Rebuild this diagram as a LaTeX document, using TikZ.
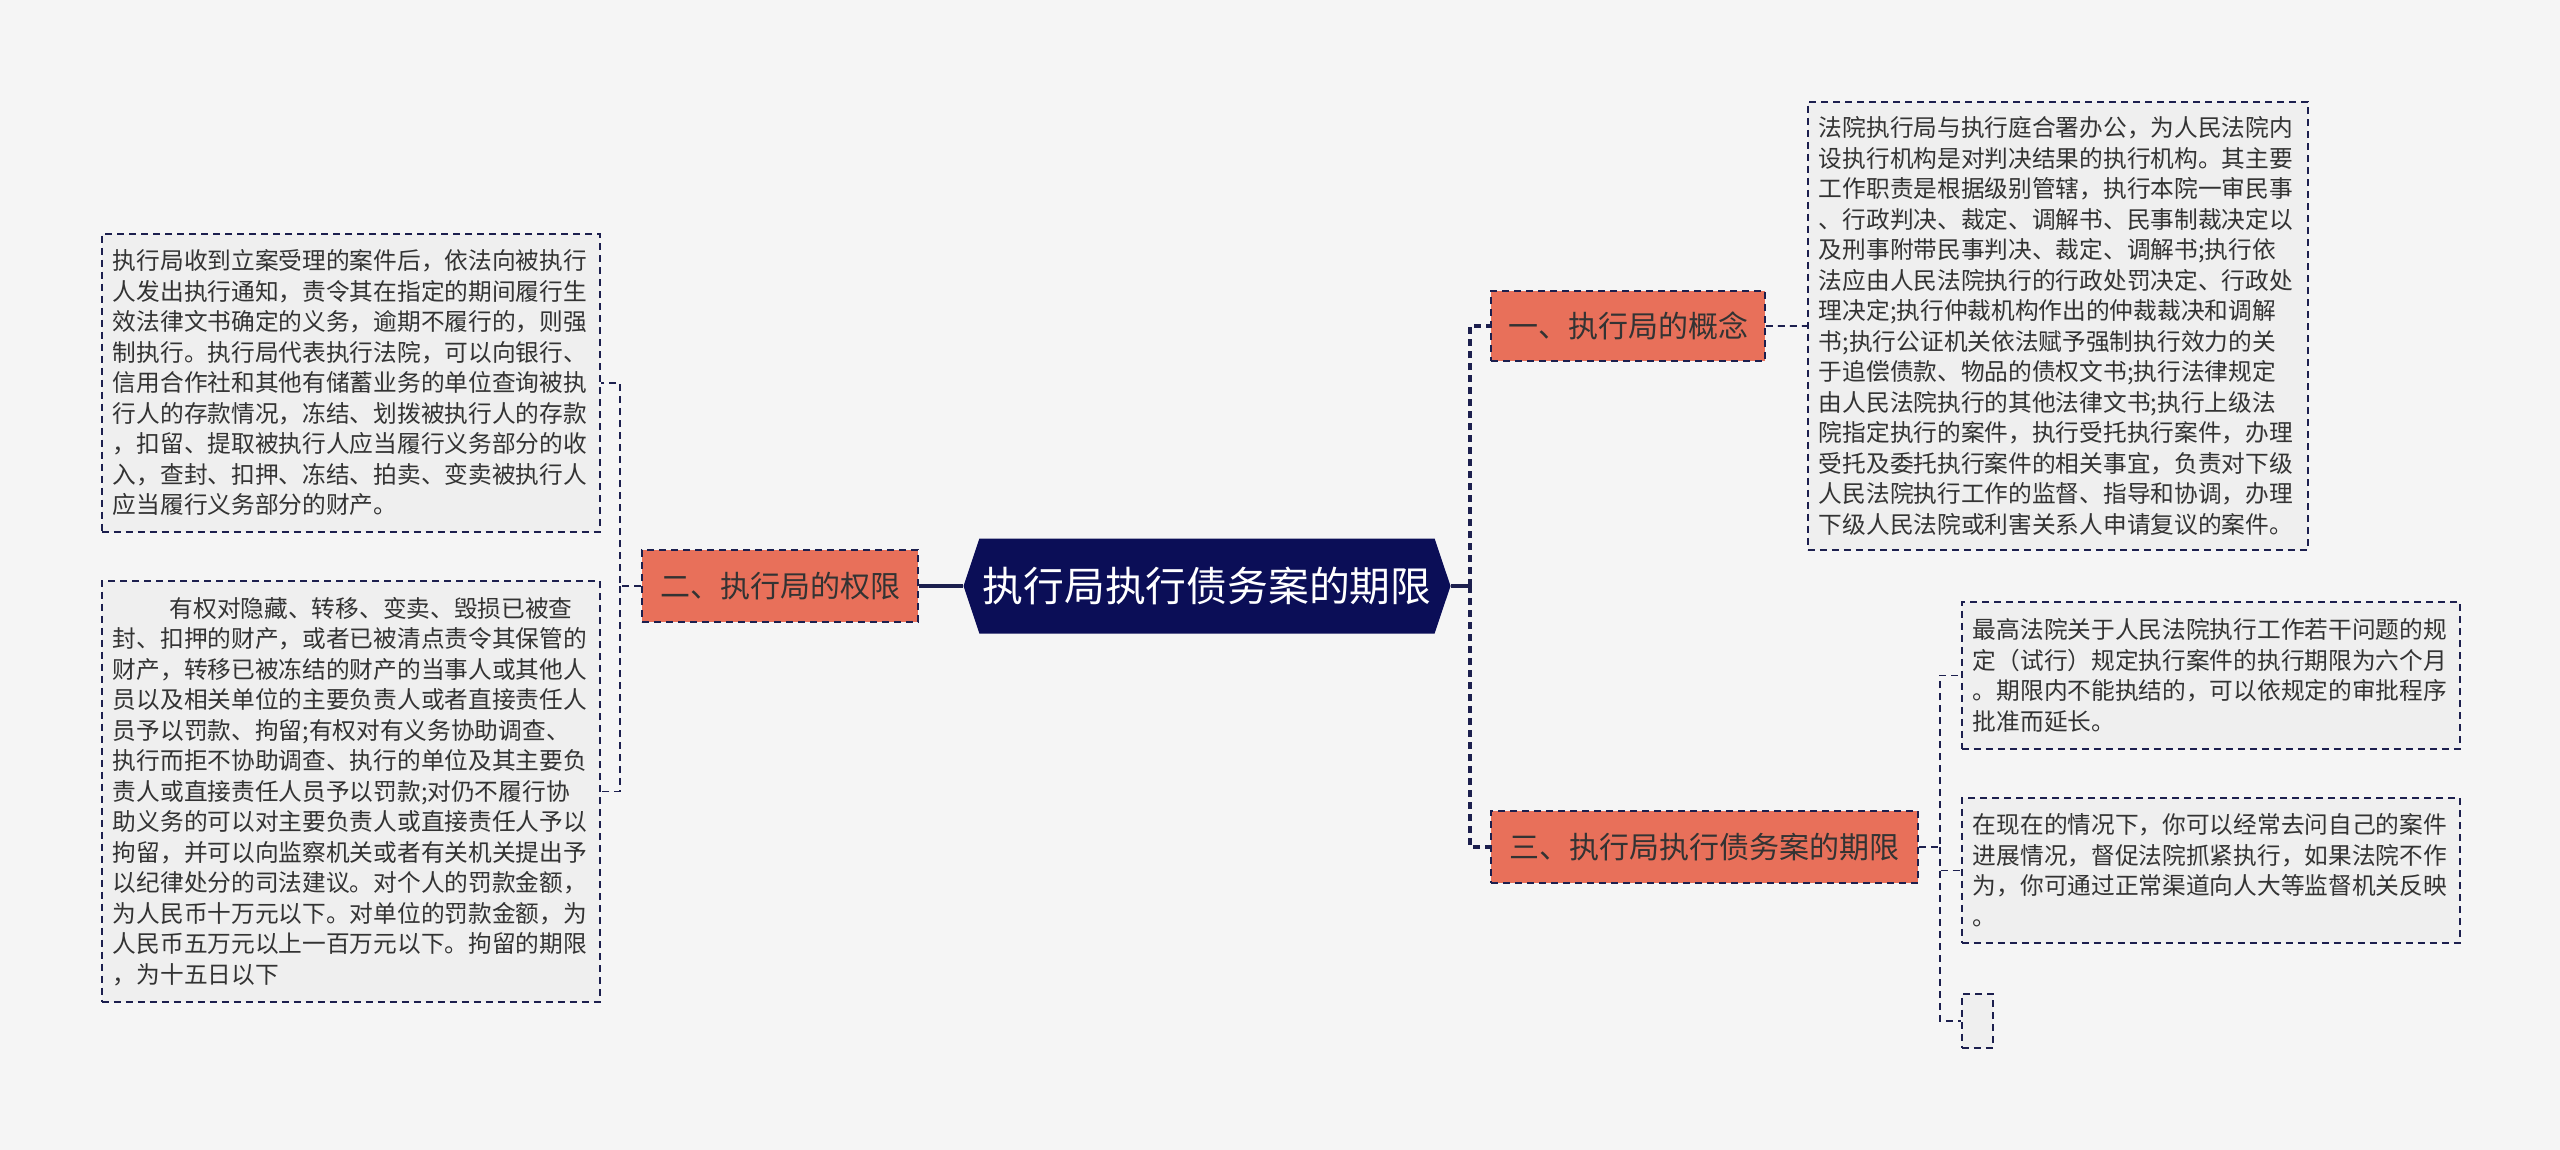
\documentclass[tikz,border=0pt]{standalone}
\usepackage{fontspec}
\setmainfont{Noto Sans CJK SC}
\usepackage{xcolor}
\usepackage{tikz}
\usetikzlibrary{shapes.symbols,positioning,calc}
\definecolor{PageBg}{HTML}{F5F5F5}
\definecolor{RootNavy}{HTML}{0B0E57}
\definecolor{LineNavy}{HTML}{1C1F4E}
\definecolor{BranchRed}{HTML}{E8705A}
\definecolor{LeafGray}{HTML}{EFEFEF}
\definecolor{TextDark}{HTML}{333333}
\tikzset{
  root/.style={shape=signal,signal to=east and west,signal pointer angle=143,
               fill=RootNavy,text=white,inner sep=0pt,
               minimum width=243.5pt,minimum height=47.5pt,
               font=\fontsize{20.4}{24}\selectfont},
  branch/.style={rectangle,fill=BranchRed,draw=LineNavy,
                 dash pattern=on 3.5pt off 2.5pt,line width=0.9pt,
                 text=TextDark,minimum height=36pt,inner sep=0pt,
                 font=\fontsize{15}{18}\selectfont},
  leaf/.style={rectangle,fill=LeafGray,draw=LineNavy,anchor=north west,
               dash pattern=on 3.5pt off 2.5pt,line width=0.9pt,
               text=TextDark,align=left,inner xsep=5.5pt,inner ysep=0pt,
               font=\fontsize{11.85}{15.25}\selectfont},
  link/.style={draw=LineNavy,dash pattern=on 3.5pt off 2.5pt,line width=0.9pt},
  trunk/.style={draw=LineNavy,line width=1.6pt},
  trunkdash/.style={draw=LineNavy,dash pattern=on 3.5pt off 2.5pt,line width=2pt}
}
\begin{document}
\begin{tikzpicture}[x=0.5pt,y=-0.5pt]
  \fill[PageBg] (0,0) rectangle (2560,1150);
  \useasboundingbox (0,0) rectangle (2560,1150);

  % Root
  \node[root] (root) at (1207,586) {执行局执行债务案的期限};

  % Branches
  \node[branch,minimum width=138pt] (quanxian) at (780,586) {二、执行局的权限};
  \node[branch,minimum width=137pt,minimum height=35pt] (gainian) at (1628,326) {一、执行局的概念};
  \node[branch,minimum width=213.5pt] (qixian) at (1704.5,847) {三、执行局执行债务案的期限};

  % Leaves, left
  \node[leaf,minimum width=249pt,minimum height=149pt,text width=238pt] (qxA) at (101,233) {执行局收到立案受理的案件后，依法向被执行\\人发出执行通知，责令其在指定的期间履行生\\效法律文书确定的义务，逾期不履行的，则强\\制执行。执行局代表执行法院，可以向银行、\\信用合作社和其他有储蓄业务的单位查询被执\\行人的存款情况，冻结、划拨被执行人的存款\\，扣留、提取被执行人应当履行义务部分的收\\入，查封、扣押、冻结、拍卖、变卖被执行人\\应当履行义务部分的财产。};
  \node[leaf,minimum width=249pt,minimum height=210.5pt,text width=238pt] (qxB) at (101,580) {\hspace*{2.4em}有权对隐藏、转移、变卖、毁损已被查\\封、扣押的财产，或者已被清点责令其保管的\\财产，转移已被冻结的财产的当事人或其他人\\员以及相关单位的主要负责人或者直接责任人\\员予以罚款、拘留;有权对有义务协助调查、\\执行而拒不协助调查、执行的单位及其主要负\\责人或直接责任人员予以罚款;对仍不履行协\\助义务的可以对主要负责人或直接责任人予以\\拘留，并可以向监察机关或者有关机关提出予\\以纪律处分的司法建议。对个人的罚款金额，\\为人民币十万元以下。对单位的罚款金额，为\\人民币五万元以上一百万元以下。拘留的期限\\，为十五日以下};

  % Leaves, right
  \node[leaf,minimum width=250pt,minimum height=224pt,text width=239pt] (gnA) at (1807,101) {法院执行局与执行庭合署办公，为人民法院内\\设执行机构是对判决结果的执行机构。其主要\\工作职责是根据级别管辖，执行本院一审民事\\、行政判决、裁定、调解书、民事制裁决定以\\及刑事附带民事判决、裁定、调解书;执行依\\法应由人民法院执行的行政处罚决定、行政处\\理决定;执行仲裁机构作出的仲裁裁决和调解\\书;执行公证机关依法赋予强制执行效力的关\\于追偿债款、物品的债权文书;执行法律规定\\由人民法院执行的其他法律文书;执行上级法\\院指定执行的案件，执行受托执行案件，办理\\受托及委托执行案件的相关事宜，负责对下级\\人民法院执行工作的监督、指导和协调，办理\\下级人民法院或利害关系人申请复议的案件。};
  \node[leaf,minimum width=249pt,minimum height=73.5pt,text width=238pt] (qlA) at (1961,601) {最高法院关于人民法院执行工作若干问题的规\\定（试行）规定执行案件的执行期限为六个月\\。期限内不能执结的，可以依规定的审批程序\\批准而延长。};
  \node[leaf,minimum width=249pt,minimum height=72.5pt,text width=238pt] (qlB) at (1961,797) {在现在的情况下，你可以经常去问自己的案件\\进展情况，督促法院抓紧执行，如果法院不作\\为，你可通过正常渠道向人大等监督机关反映\\。};
  \node[leaf,minimum width=15.5pt,minimum height=27pt,inner xsep=0pt] (qlC) at (1961,993) {};

  % Connectors
  \coordinate (ljoin) at (620,586);
  \coordinate (rjoin) at (1470,586);
  \coordinate (qjoin) at (1940,847);
  \draw[trunk] (root.west) -- (quanxian.east);
  \draw[link] (quanxian.west) -- (ljoin) |- (qxA.east);
  \draw[link] (ljoin) |- (qxB.east);
  \draw[trunk] (root.east) -- (rjoin);
  \draw[trunkdash] (rjoin) |- (gainian.west);
  \draw[trunkdash] (rjoin) |- (qixian.west);
  \draw[link] (gainian.east) -- (gnA.west);
  \draw[link] (qixian.east) -- (qjoin) |- (qlA.west);
  \draw[link] (qjoin) |- (qlB.west);
  \draw[link] (qjoin) |- (qlC.west);
\end{tikzpicture}
\end{document}
